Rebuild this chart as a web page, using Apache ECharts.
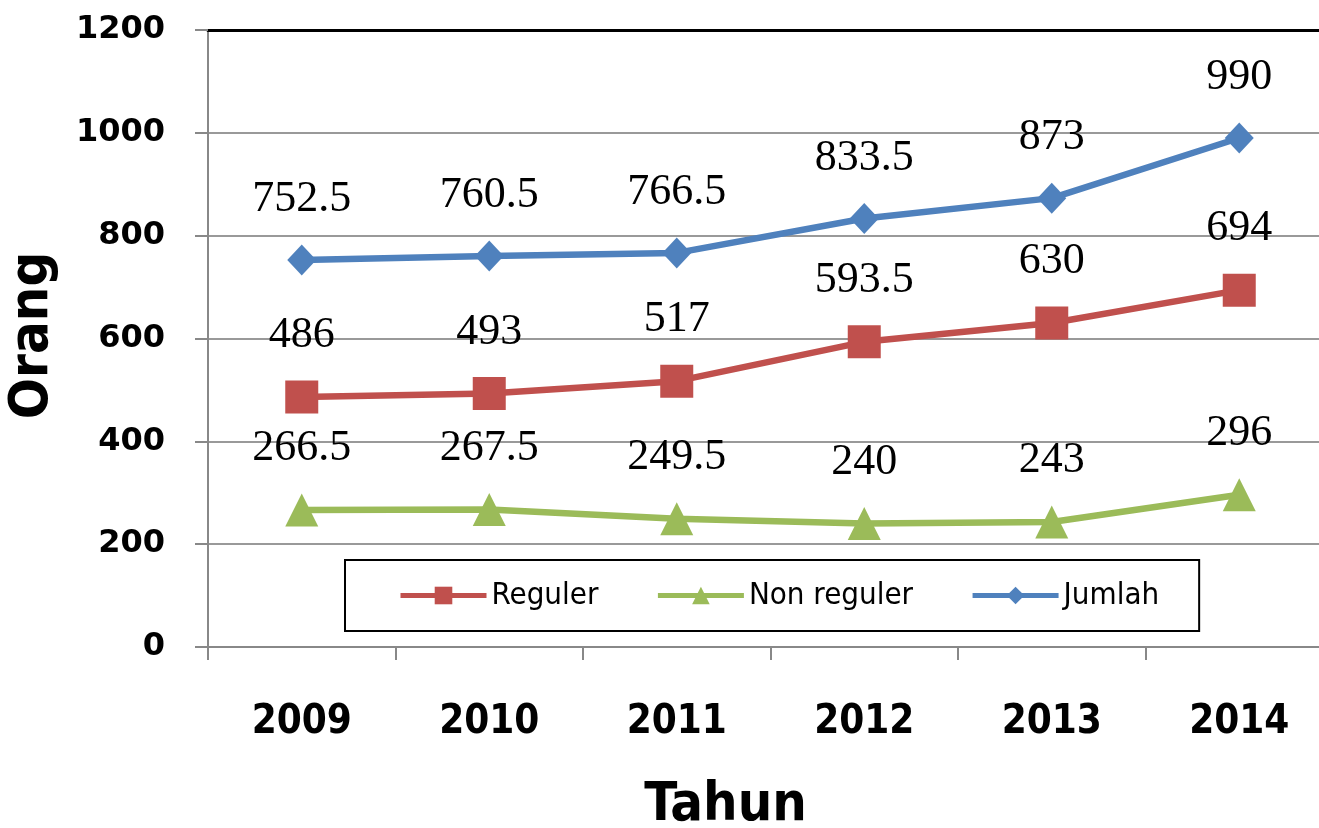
<!DOCTYPE html>
<html>
<head>
<meta charset="utf-8">
<script src="https://cdn.jsdelivr.net/npm/echarts@6/dist/echarts.min.js"></script>
<style>
html,body{margin:0;padding:0;background:#fff;}
#main{width:1319px;height:828px;}
</style>
</head>
<body>
<div id="main"></div>
<script>
const categories = ['2009', '2010', '2011', '2012', '2013', '2014'];
const reguler = [486, 493, 517, 593.5, 630, 694];
const nonReguler = [266.5, 267.5, 249.5, 240, 243, 296];
const jumlah = [752.5, 760.5, 766.5, 833.5, 873, 990];
const yTicks = { min: 0, max: 1200, interval: 200 };

const chart = echarts.init(document.getElementById('main'));
const labelStyle = {
  show: true,
  position: 'top',
  distance: 23,
  color: '#000',
  fontFamily: 'Liberation Serif',
  fontSize: 44
};
function mkSeries(name, data, color, symbol, size) {
  return {
    name: name,
    type: 'line',
    data: data,
    symbol: symbol,
    symbolSize: size,
    lineStyle: { color: color, width: 6.5 },
    itemStyle: { color: color },
    label: labelStyle,
    animation: false
  };
}
chart.setOption({
  animation: false,
  grid: { left: 208, right: -14, top: 30, bottom: 181, containLabel: false, outerBoundsMode: 'none' },
  legend: {
    left: 345,
    top: 560,
    padding: [20, 40, 20, 53],
    itemWidth: 86,
    itemHeight: 22,
    itemGap: 57,
    borderColor: '#000',
    borderWidth: 2,
    backgroundColor: '#fff',
    lineStyle: { width: 5 },
    textStyle: { fontFamily: 'DejaVu Sans Condensed', fontSize: 31, color: '#000' },
    data: ['Reguler', 'Non reguler', 'Jumlah']
  },
  xAxis: [{
    type: 'category',
    data: categories,
    boundaryGap: true,
    name: 'Tahun',
    nameLocation: 'middle',
    nameGap: 132,
    nameTextStyle: { fontFamily: 'DejaVu Sans Condensed', fontWeight: 'bold', fontSize: 54, color: '#000', padding: [0, 90, 0, 0] },
    axisLine: { lineStyle: { color: '#888', width: 2 } },
    axisTick: { show: true, length: 13, lineStyle: { color: '#888', width: 2 } },
    axisLabel: { margin: 56, fontFamily: 'DejaVu Sans Condensed', fontWeight: 'bold', fontSize: 40, color: '#000' },
    splitLine: { show: false }
  }, {
    type: 'category',
    data: categories,
    position: 'top',
    axisLine: { show: true, lineStyle: { color: '#000', width: 3 } },
    axisTick: { show: false },
    axisLabel: { show: false },
    splitLine: { show: false }
  }],
  yAxis: {
    type: 'value',
    min: yTicks.min,
    max: yTicks.max,
    interval: yTicks.interval,
    name: 'Orang',
    nameLocation: 'middle',
    nameGap: 148,
    nameTextStyle: { fontFamily: 'DejaVu Sans Condensed', fontWeight: 'bold', fontSize: 54, color: '#000', padding: [0, 0, 0, 6] },
    axisLine: { show: true, lineStyle: { color: '#888', width: 2 } },
    axisTick: { show: true, length: 13, lineStyle: { color: '#888', width: 2 } },
    axisLabel: { margin: 43, fontFamily: 'DejaVu Sans', fontWeight: 'bold', fontSize: 32, color: '#000', formatter: function (v) { return String(v); } },
    splitLine: { show: true, lineStyle: { color: '#999', width: 2 } }
  },
  series: [
    mkSeries('Reguler', reguler, '#C0504D', 'rect', 33),
    mkSeries('Non reguler', nonReguler, '#9BBB59', 'triangle', 33),
    mkSeries('Jumlah', jumlah, '#4F81BD', 'diamond', [29, 31])
  ]
});
</script>
</body>
</html>
